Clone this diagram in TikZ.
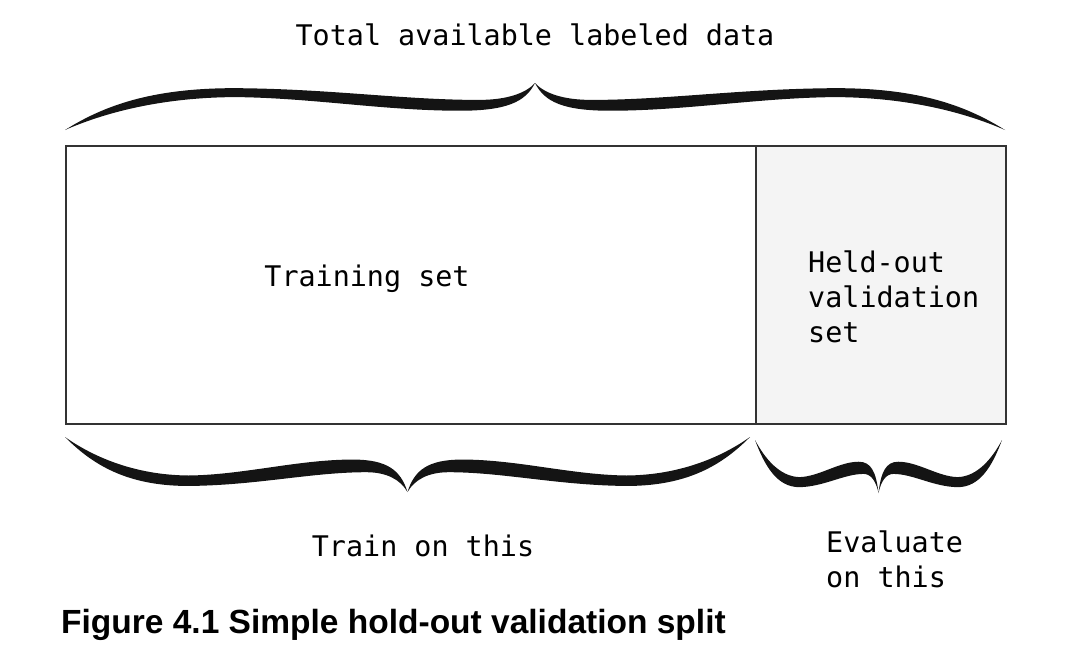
\documentclass[tikz,border=0pt]{standalone}
\usepackage{fontspec}
\setmainfont{Liberation Sans}
\setmonofont{DejaVu Sans Mono}
\definecolor{heldgray}{HTML}{F4F4F4}
\definecolor{inkgray}{HTML}{333333}
\newcommand{\halfcurly}{%
    \fill[black!92] (0,0) .. controls (0.04,0.5) and (0.09,0.89) .. (0.18,0.89)
        .. controls (0.28,0.88) and (0.36,0.64) .. (0.44,0.64)
        .. controls (0.47,0.64) and (0.49,0.78) .. (0.5,1)
        .. controls (0.49,0.6) and (0.47,0.41) .. (0.42,0.41)
        .. controls (0.34,0.41) and (0.26,0.69) .. (0.18,0.70)
        .. controls (0.1,0.69) and (0.04,0.35) .. (0,0) -- cycle;}
\tikzset{
    curly/.pic={
        \halfcurly
        \begin{scope}[shift={(1,0)}, xscale=-1]
            \halfcurly
        \end{scope}
    },
    mono/.style={font={\fontsize{28.4}{35}\selectfont\ttfamily}, inner sep=0pt},
    part/.style={draw=inkgray, line width=1.6pt, anchor=north west, inner sep=0pt, minimum height=278pt},
}
\begin{document}
\begin{tikzpicture}[x=1pt, y=-1pt]
    \useasboundingbox (0,0) rectangle (1070,664);
    \node[part, minimum width=690pt] (trainbox) at (65,145) {};
    \node[part, fill=heldgray, minimum width=250pt] (heldbox) at (755,145) {};
    \node[mono, anchor=base] (total) at (535,45) {Total available labeled data};
    \node[mono, anchor=base] (trainlbl) at (367,286) {Training set};
    \node[mono, anchor=north west, align=left] (heldlbl) at (808,251) {Held-out\\validation\\set};
    \node[mono, anchor=base] (trainon) at (423,556) {Train on this};
    \node[mono, anchor=north west, align=left] (evalon) at (826,531) {Evaluate\\on this};
    \node[font={\fontsize{33.5}{40}\selectfont\bfseries}, anchor=base west, inner sep=0pt] (caption) at (61,633) {Figure 4.1 Simple hold-out validation split};
    \pic[xscale=940, yscale=-47] at (65,130) {curly};
    \pic[xscale=685, yscale=55] at (65,437) {curly};
    \pic[xscale=247, yscale=53] at (755,440) {curly};
\end{tikzpicture}
\end{document}
